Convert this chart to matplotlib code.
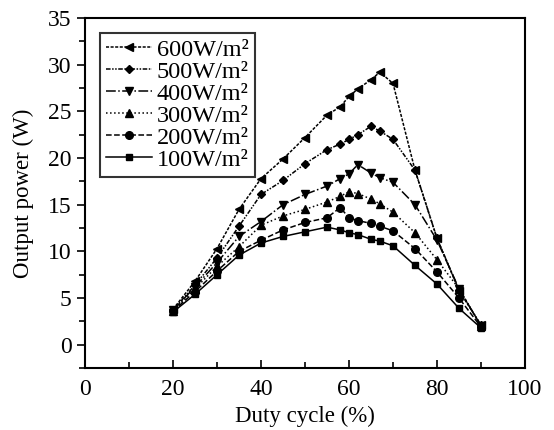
import numpy as np
import matplotlib.pyplot as plt
from matplotlib.ticker import MultipleLocator

plt.rcParams['font.family'] = ['Liberation Serif', 'DejaVu Serif']

# duty cycle (%) sample points
duty = [20, 25, 30, 35, 40, 45, 50, 55, 58, 60, 62, 65, 67, 70, 75, 80, 85, 90]

p600 = [3.8, 6.8, 10.3, 14.5, 17.8, 19.9, 22.2, 24.6, 25.5, 26.6, 27.4, 28.4, 29.2, 28.0, 18.7, 11.4, 5.8, 2.1]
p500 = [3.7, 6.4, 9.3, 12.7, 16.1, 17.6, 19.4, 20.9, 21.5, 22.0, 22.5, 23.4, 22.9, 22.0, 18.7, 11.4, 5.9, 2.1]
p400 = [3.7, 6.2, 8.8, 11.6, 13.2, 15.0, 16.1, 17.0, 17.8, 18.3, 19.3, 18.4, 17.9, 17.4, 15.0, 11.2, 6.0, 2.0]
p300 = [3.6, 6.0, 8.4, 10.5, 12.8, 13.8, 14.5, 15.3, 15.9, 16.4, 16.2, 15.6, 15.1, 14.2, 12.0, 9.1, 6.0, 2.0]
p200 = [3.6, 5.7, 7.9, 10.0, 11.2, 12.3, 13.1, 13.6, 14.7, 13.6, 13.3, 13.0, 12.7, 12.2, 10.3, 7.8, 5.0, 1.9]
p100 = [3.5, 5.4, 7.5, 9.6, 10.9, 11.6, 12.1, 12.6, 12.3, 12.0, 11.8, 11.3, 11.1, 10.6, 8.5, 6.5, 3.9, 1.8]

series = [
    ("600W/m²", p600, "<", (0, (2, 1))),
    ("500W/m²", p500, "D", (0, (3, 1, 1, 1, 1, 1))),
    ("400W/m²", p400, "v", "dashdot"),
    ("300W/m²", p300, "^", "dotted"),
    ("200W/m²", p200, "o", "dashed"),
    ("100W/m²", p100, "s", "solid"),
]

fig = plt.figure(figsize=(5.54, 4.30), dpi=100)
ax = fig.add_axes([0.1534, 0.144, 0.7943, 0.814])

for label, vals, mk, ls in series:
    ms = 4.5 if mk in ("D", "s") else 5.5
    ax.plot(duty, vals, color="black", linestyle=ls, linewidth=1.1,
            marker=mk, markersize=ms, label=label)

ax.set_xlim(0, 100)
ax.set_ylim(-2.5, 35)
ax.xaxis.set_major_locator(MultipleLocator(20))
ax.xaxis.set_minor_locator(MultipleLocator(10))
ax.yaxis.set_major_locator(MultipleLocator(5))
ax.yaxis.set_minor_locator(MultipleLocator(2.5))
ax.tick_params(axis="x", which="both", direction="in", labelsize=17, pad=8)
ax.tick_params(axis="x", which="major", length=6, width=1.2)
ax.tick_params(axis="x", which="minor", length=4, width=1.2)
ax.tick_params(axis="y", which="both", direction="out", labelsize=17)
ax.tick_params(axis="y", which="major", length=6, width=1.2)
ax.tick_params(axis="y", which="minor", length=4, width=1.2)
for s in ax.spines.values():
    s.set_linewidth(1.5)

ax.set_xlabel("Duty cycle (%)", fontsize=16.5)
ax.set_ylabel("Output power (W)", fontsize=16.5, labelpad=10)

leg = ax.legend(loc="upper left", fontsize=17.5, frameon=True, fancybox=False,
                edgecolor="black", handlelength=1.9, handletextpad=0.2,
                labelspacing=0.0, borderpad=0.25, borderaxespad=0.6)
leg.get_frame().set_linewidth(1.5)

fig.savefig("out.png", dpi=100)
